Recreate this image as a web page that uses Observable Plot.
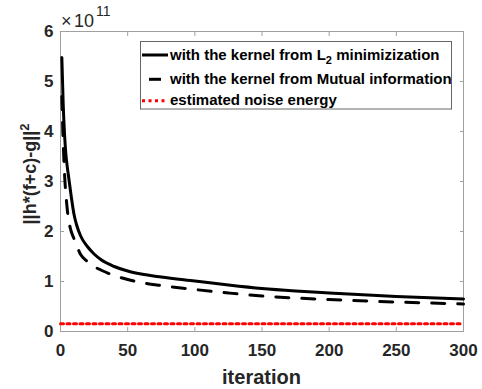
<!DOCTYPE html>
<html>
<head>
<meta charset="utf-8">
<script src="https://cdn.jsdelivr.net/npm/d3@7"></script>
<script src="https://cdn.jsdelivr.net/npm/@observablehq/plot@0.6"></script>
<style>
  html, body { margin: 0; padding: 0; background: #fff; }
  svg { display: block; }
</style>
</head>
<body>
<div id="chart"></div>
<script>
// iterations sampled along the curves
const iterations = [1, 2, 3, 4, 5, 6, 8, 10, 12, 15, 20, 25, 30, 40, 50, 60, 75, 100, 125, 150, 175, 200, 250, 300];
// values in units of 10^11
const l2Minimization = [5.48, 4.55, 3.95, 3.55, 3.3, 3.1, 2.7, 2.35, 2.13, 1.91, 1.7, 1.55, 1.44, 1.3, 1.21, 1.15, 1.09, 1.01, 0.93, 0.86, 0.81, 0.77, 0.70, 0.65];
const mutualInformation = [4.7, 3.8, 3.15, 2.75, 2.45, 2.24, 2.0, 1.86, 1.72, 1.54, 1.4, 1.3, 1.23, 1.12, 1.04, 0.98, 0.92, 0.84, 0.77, 0.71, 0.67, 0.64, 0.59, 0.55];
const noiseIterations = [0, 300];
const noiseEnergy = [0.153, 0.153];

const xTicks = [0, 50, 100, 150, 200, 250, 300];
const yTicks = [0, 1, 2, 3, 4, 5, 6];
const xLabel = "iteration";
const exponentBase = "10";
const exponentPower = "11";
const legendLabels = ["with the kernel from L", "with the kernel from Mutual information", "estimated noise energy"];

const l2Data = iterations.map((it, i) => ({iteration: it, value: l2Minimization[i]}));
const miData = iterations.map((it, i) => ({iteration: it, value: mutualInformation[i]}));
const noiseData = noiseIterations.map((it, i) => ({iteration: it, value: noiseEnergy[i]}));

const axisGray = "#a0a0a0";
const textDark = "#262626";
const font = "'Liberation Sans', Arial, Helvetica, sans-serif";

const chart = Plot.plot({
  width: 482,
  height: 389,
  marginLeft: 60,
  marginRight: 19,
  marginTop: 31,
  marginBottom: 58,
  style: {fontFamily: font, fontWeight: "bold", fontSize: "17px", color: textDark, background: "#fff"},
  x: {domain: [0, 300]},
  y: {domain: [0, 6]},
  marks: [
    Plot.frame({stroke: axisGray}),
    Plot.axisX({ticks: xTicks, tickSize: 0, tickPadding: 12, tickFormat: d => String(d), fill: textDark, label: null}),
    Plot.axisX({ticks: xTicks, tickSize: 4, insetBottom: 4, tickFormat: () => "", stroke: axisGray, label: null}),
    Plot.axisX({ticks: xTicks, anchor: "top", tickSize: 4, insetTop: 4, tickFormat: () => "", stroke: axisGray, label: null}),
    Plot.axisY({ticks: yTicks, tickSize: 0, tickPadding: 7, tickFormat: d => String(d), fill: textDark, label: null}),
    Plot.axisY({ticks: yTicks, tickSize: 4, insetLeft: 4, tickFormat: () => "", stroke: axisGray, label: null}),
    Plot.axisY({ticks: yTicks, anchor: "right", tickSize: 4, insetRight: 4, tickFormat: () => "", stroke: axisGray, label: null}),
    Plot.line(noiseData, {x: "iteration", y: "value", stroke: "#ff0000", strokeWidth: 3, strokeDasharray: "3,3.5"}),
    Plot.line(miData, {x: "iteration", y: "value", stroke: "#000", strokeWidth: 3, strokeDasharray: "13,13", curve: "monotone-x"}),
    Plot.line(l2Data, {x: "iteration", y: "value", stroke: "#000", strokeWidth: 3, curve: "monotone-x"})
  ]
});

document.getElementById("chart").appendChild(chart);

const svg = d3.select(chart);

// x label
svg.append("text")
  .attr("x", 261.5).attr("y", 383.5)
  .attr("text-anchor", "middle")
  .attr("font-family", font).attr("font-weight", "bold").attr("font-size", 20)
  .attr("fill", textDark)
  .text(xLabel);

// y label
const yl = svg.append("text")
  .attr("transform", "translate(36,174) rotate(-90)")
  .attr("text-anchor", "middle")
  .attr("font-family", font).attr("font-weight", "bold").attr("font-size", 18)
  .attr("fill", textDark);
yl.append("tspan").text("||h*(f+c)-g||");
yl.append("tspan").attr("dy", -7).attr("font-size", 13).text("2");

// exponent (×10^11)
const ex = svg.append("text")
  .attr("y", 26.5)
  .attr("text-anchor", "start")
  .attr("fill", textDark)
  .style("font-family", font).style("font-weight", "normal").style("font-size", "18px");
ex.append("tspan").attr("x", 61).style("font-size", "18px").text("×");
ex.append("tspan").attr("x", 74).style("font-size", "18px").text(exponentBase);
ex.append("tspan").attr("x", 96).attr("dy", -11).style("font-size", "14px").text(exponentPower);

// legend
const lg = svg.append("g").attr("font-family", font).attr("font-weight", "bold").attr("font-size", 15)
  .attr("fill", "#000").attr("text-anchor", "start");
lg.append("rect").attr("x", 140.5).attr("y", 41.5).attr("width", 311).attr("height", 67.5)
  .attr("fill", "#fff").attr("stroke", "#666").attr("stroke-width", 1);
lg.append("line").attr("x1", 142).attr("x2", 168).attr("y1", 55).attr("y2", 55)
  .attr("stroke", "#000").attr("stroke-width", 3);
lg.append("line").attr("x1", 149).attr("x2", 161).attr("y1", 79.3).attr("y2", 79.3)
  .attr("stroke", "#000").attr("stroke-width", 3);
lg.append("line").attr("x1", 142).attr("x2", 168).attr("y1", 100.7).attr("y2", 100.7)
  .attr("stroke", "#ff0000").attr("stroke-width", 3).attr("stroke-dasharray", "3,3.5");
const t1 = lg.append("text").attr("x", 170).attr("y", 59.5).attr("text-anchor", "start");
t1.append("tspan").text(legendLabels[0]);
t1.append("tspan").attr("dy", 4).attr("font-size", 11).text("2");
t1.append("tspan").attr("dy", -4).text(" minimizization");
lg.append("text").attr("x", 170).attr("y", 83.5).attr("text-anchor", "start").text(legendLabels[1]);
lg.append("text").attr("x", 170).attr("y", 104.8).attr("text-anchor", "start").text(legendLabels[2]);
</script>
</body>
</html>
